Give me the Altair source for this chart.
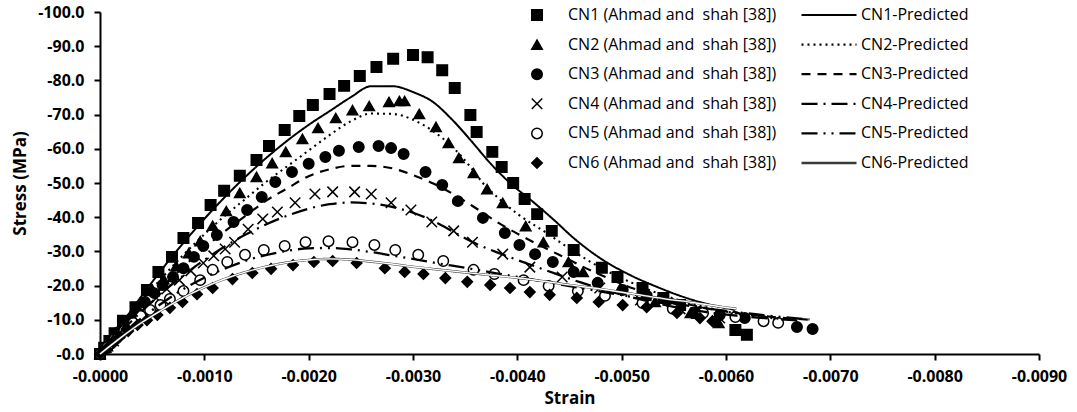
import altair as alt
import pandas as pd

# ---------------- data ----------------
exp_labels = [
    "CN1 (Ahmad and\u00a0 shah [38])",
    "CN2 (Ahmad and\u00a0 shah [38])",
    "CN3 (Ahmad and\u00a0 shah [38])",
    "CN4 (Ahmad and\u00a0 shah [38])",
    "CN5 (Ahmad and\u00a0 shah [38])",
    "CN6 (Ahmad and\u00a0 shah [38])",
]
pred_labels = ["CN1-Predicted", "CN2-Predicted", "CN3-Predicted",
               "CN4-Predicted", "CN5-Predicted", "CN6-Predicted"]

cn1_strain = [0, -0.00004, -0.00009, -0.00014, -0.00022, -0.00034, -0.00045, -0.00056, -0.00069, -0.00080,
              -0.00094, -0.00106, -0.00119, -0.00134, -0.00150, -0.00162, -0.00177, -0.00191, -0.00204, -0.00220,
              -0.00234, -0.00249, -0.00265, -0.00281, -0.00300, -0.00314, -0.00328, -0.00340, -0.00355, -0.00361,
              -0.00376, -0.00385, -0.00396, -0.00407, -0.00419, -0.00433, -0.00454, -0.00481, -0.00496, -0.00520,
              -0.00540, -0.00556, -0.00572, -0.00609, -0.00620]
cn1_stress = [0, -1.8, -3.8, -6.1, -9.7, -13.7, -18.7, -24.0, -28.4, -33.9,
              -38.3, -43.6, -47.7, -52.1, -56.7, -60.8, -65.5, -69.6, -72.8, -76.0,
              -78.4, -81.3, -83.9, -86.3, -87.4, -86.8, -83.0, -77.8, -69.9, -64.9,
              -59.1, -54.7, -50.0, -45.3, -40.9, -36.0, -30.4, -25.2, -22.5, -19.3,
              -16.4, -14.3, -12.0, -7.0, -5.6]

cn2_strain = [0, -0.00007, -0.00013, -0.00021, -0.00031, -0.00040, -0.00051, -0.00061, -0.00073, -0.00085,
              -0.00096, -0.00108, -0.00121, -0.00134, -0.00150, -0.00165, -0.00178, -0.00194, -0.00209, -0.00226,
              -0.00242, -0.00258, -0.00277, -0.00287, -0.00292, -0.00306, -0.00322, -0.00334, -0.00344, -0.00358,
              -0.00371, -0.00386, -0.00408, -0.00425, -0.00449, -0.00463, -0.00499, -0.00532, -0.00566, -0.00593]
cn2_stress = [0, -2.3, -5.0, -7.9, -11.4, -14.9, -18.4, -21.9, -25.7, -29.5,
              -33.0, -37.5, -41.8, -47.1, -51.8, -55.8, -59.1, -62.9, -66.1, -69.0,
              -71.3, -72.5, -73.7, -74.0, -74.0, -70.2, -66.4, -61.7, -57.3, -52.9,
              -48.2, -44.2, -37.4, -32.7, -26.9, -24.0, -19.3, -15.2, -12.0, -9.1]

cn3_strain = [0, -0.00006, -0.00012, -0.00018, -0.00026, -0.00035, -0.00043, -0.00052, -0.00060, -0.00070,
              -0.00080, -0.00090, -0.00099, -0.00112, -0.00128, -0.00141, -0.00155, -0.00168, -0.00184, -0.00200,
              -0.00216, -0.00229, -0.00248, -0.00267, -0.00279, -0.00291, -0.00312, -0.00328, -0.00343, -0.00367,
              -0.00388, -0.00402, -0.00417, -0.00434, -0.00454, -0.00477, -0.00501, -0.00524, -0.00548, -0.00575,
              -0.00594, -0.00618, -0.00668, -0.00683]
cn3_stress = [0, -2.0, -4.1, -6.4, -9.4, -12.3, -15.2, -17.8, -20.2, -22.5,
              -25.1, -28.4, -31.6, -34.8, -38.6, -42.1, -45.9, -50.3, -53.2, -55.6,
              -57.6, -59.4, -60.5, -60.8, -60.2, -58.5, -53.2, -49.4, -44.7, -39.8,
              -35.4, -31.9, -29.2, -26.9, -24.0, -20.8, -18.7, -17.0, -14.6, -12.3,
              -11.4, -10.5, -7.9, -7.3]

cn4_strain = [0, -0.00006, -0.00013, -0.00019, -0.00027, -0.00036, -0.00044, -0.00054, -0.00064, -0.00076,
              -0.00087, -0.00099, -0.00109, -0.00120, -0.00129, -0.00142, -0.00156, -0.00170, -0.00187, -0.00206,
              -0.00223, -0.00244, -0.00260, -0.00279, -0.00298, -0.00318, -0.00339, -0.00357, -0.00386, -0.00412,
              -0.00443, -0.00479, -0.00518, -0.00556, -0.00594]
cn4_stress = [0, -1.8, -3.8, -6.1, -8.5, -11.1, -13.7, -16.4, -19.0, -21.6,
              -24.3, -26.6, -28.7, -30.7, -32.7, -36.5, -39.5, -41.5, -44.2, -46.8,
              -47.4, -47.4, -46.8, -44.2, -42.1, -38.6, -36.0, -32.7, -29.2, -25.4,
              -22.5, -19.3, -15.8, -13.2, -10.5]

cn5_strain = [0, -0.00007, -0.00014, -0.00023, -0.00032, -0.00039, -0.00048, -0.00058, -0.00067, -0.00080,
              -0.00096, -0.00108, -0.00122, -0.00139, -0.00157, -0.00177, -0.00197, -0.00219, -0.00242, -0.00263,
              -0.00283, -0.00305, -0.00329, -0.00358, -0.00378, -0.00406, -0.00430, -0.00458, -0.00484, -0.00520,
              -0.00549, -0.00578, -0.00609, -0.00636, -0.00650]
cn5_stress = [0, -2.0, -4.4, -6.7, -9.1, -11.1, -12.9, -14.3, -16.1, -18.4,
              -21.6, -24.6, -26.9, -29.0, -30.4, -31.6, -32.7, -33.0, -32.7, -31.9,
              -30.4, -29.0, -27.2, -24.6, -23.4, -21.6, -19.9, -18.4, -17.0, -14.9,
              -13.2, -12.0, -10.8, -9.6, -9.1]

cn6_strain = [0, -0.00006, -0.00013, -0.00019, -0.00027, -0.00036, -0.00045, -0.00055, -0.00067, -0.00079,
              -0.00093, -0.00108, -0.00127, -0.00146, -0.00164, -0.00185, -0.00205, -0.00223, -0.00246, -0.00273,
              -0.00292, -0.00310, -0.00331, -0.00352, -0.00374, -0.00393, -0.00412, -0.00431, -0.00457, -0.00478,
              -0.00501, -0.00524, -0.00553, -0.00575, -0.00587]
cn6_stress = [0, -1.5, -3.2, -5.0, -6.7, -8.5, -9.9, -11.4, -13.5, -15.2,
              -17.5, -19.3, -21.9, -23.7, -24.9, -26.0, -26.9, -27.2, -26.6, -25.1,
              -24.0, -23.4, -22.2, -21.1, -20.2, -19.3, -18.1, -17.3, -16.4, -15.2,
              -14.3, -13.7, -12.0, -10.5, -9.6]

# predicted curves
p1_strain = [0, -0.0002, -0.0004, -0.0006, -0.0008, -0.0010, -0.0012, -0.0014, -0.0016, -0.0018,
             -0.0020, -0.0022, -0.0024, -0.0026, -0.0028, -0.0030, -0.0032, -0.00336, -0.00355, -0.00374,
             -0.00393, -0.00415, -0.00434, -0.00454, -0.00479, -0.00508, -0.00534, -0.00559, -0.00575, -0.00609]
p1_stress = [0, -8.5, -17.0, -25.0, -32.5, -39.5, -46.0, -52.0, -57.5, -62.5,
             -67.0, -71.0, -75.0, -78.3, -78.3, -76.6, -73.5, -69.0, -62.6, -55.8,
             -50.0, -44.5, -39.5, -33.9, -28.1, -23.1, -19.6, -16.7, -15.2, -12.9]

p2_strain = [0, -0.0002, -0.0004, -0.0006, -0.0008, -0.0010, -0.0012, -0.0014, -0.0016, -0.0018,
             -0.0020, -0.0022, -0.0024, -0.0026, -0.0028, -0.0030, -0.0032, -0.00339, -0.00355, -0.00367,
             -0.00384, -0.0040, -0.0043, -0.0045, -0.0048, -0.0051, -0.0054, -0.0057, -0.0060, -0.0063, -0.0066]
p2_stress = [0, -8.0, -15.5, -22.5, -29.0, -35.0, -40.5, -45.5, -50.5, -55.0,
             -59.5, -64.0, -68.0, -70.3, -70.2, -68.5, -65.0, -60.2, -54.7, -50.0,
             -45.0, -41.0, -35.0, -30.8, -25.2, -20.8, -17.2, -14.5, -12.4, -11.0, -10.0]

p3_strain = [0, -0.0002, -0.0004, -0.0006, -0.0008, -0.0010, -0.0012, -0.0014, -0.0016, -0.0018,
             -0.0020, -0.0022, -0.0024, -0.0026, -0.0028, -0.0030, -0.0032, -0.0034, -0.0036, -0.0038,
             -0.0040, -0.0042, -0.0044, -0.0047, -0.0050, -0.0053, -0.0056, -0.0059, -0.0062, -0.0065, -0.0068]
p3_stress = [0, -7.0, -13.5, -19.5, -25.5, -31.0, -36.0, -40.5, -45.0, -48.5,
             -52.0, -54.0, -55.0, -55.0, -54.3, -52.3, -49.8, -46.5, -42.7, -38.7,
             -35.2, -32.0, -29.0, -24.5, -20.5, -17.2, -14.8, -12.9, -11.6, -10.7, -10.0]

p4_strain = [0, -0.0002, -0.0004, -0.0006, -0.0008, -0.0010, -0.0012, -0.0014, -0.0016, -0.0018,
             -0.0020, -0.0022, -0.0024, -0.0026, -0.0028, -0.0030, -0.0032, -0.0034, -0.0036, -0.0038,
             -0.0040, -0.0043, -0.0046, -0.0049, -0.0052, -0.0055, -0.0058, -0.0061, -0.0064, -0.0067]
p4_stress = [0, -6.5, -12.5, -18.0, -23.0, -27.5, -31.5, -35.0, -38.0, -40.5,
             -42.5, -43.8, -44.3, -44.0, -43.0, -41.3, -38.8, -35.5, -32.3, -29.8,
             -27.5, -24.2, -21.0, -18.2, -15.8, -13.8, -12.3, -11.2, -10.4, -9.8]

p5_strain = [0, -0.0002, -0.0004, -0.0006, -0.0008, -0.0010, -0.0012, -0.0014, -0.0016, -0.0018,
             -0.0020, -0.0022, -0.0024, -0.0026, -0.0028, -0.0030, -0.0032, -0.0035, -0.0038, -0.0041,
             -0.0044, -0.0047, -0.0050, -0.0053, -0.0056, -0.0059, -0.0062, -0.0065, -0.0068]
p5_stress = [0, -5.5, -10.5, -15.0, -19.0, -22.3, -25.0, -27.3, -29.0, -30.2,
             -30.9, -31.0, -30.6, -29.8, -28.8, -27.8, -26.7, -25.2, -23.6, -22.0,
             -20.4, -18.8, -17.2, -15.7, -14.3, -13.0, -11.9, -10.9, -10.1]

p6_strain = [0, -0.0002, -0.0004, -0.0006, -0.0008, -0.0010, -0.0012, -0.0014, -0.0016, -0.0018,
             -0.0020, -0.0022, -0.0024, -0.0026, -0.0028, -0.0030, -0.0033, -0.0036, -0.0039, -0.0042,
             -0.0045, -0.0048, -0.0051, -0.0054, -0.0057, -0.0060, -0.0061]
p6_stress = [0, -4.8, -9.2, -13.0, -16.5, -19.5, -22.0, -24.0, -25.6, -26.8,
             -27.5, -27.8, -27.6, -27.0, -26.3, -25.5, -24.5, -23.5, -22.6, -21.5,
             -20.2, -19.0, -17.6, -16.2, -15.0, -13.6, -13.2]

x_ticks = [0, -0.001, -0.002, -0.003, -0.004, -0.005, -0.006, -0.007, -0.008, -0.009]
y_ticks = [0, -10, -20, -30, -40, -50, -60, -70, -80, -90, -100]

# ---------------- tables ----------------
exp_series = [(cn1_strain, cn1_stress), (cn2_strain, cn2_stress), (cn3_strain, cn3_stress),
              (cn4_strain, cn4_stress), (cn5_strain, cn5_stress), (cn6_strain, cn6_stress)]
pred_series = [(p1_strain, p1_stress), (p2_strain, p2_stress), (p3_strain, p3_stress),
               (p4_strain, p4_stress), (p5_strain, p5_stress), (p6_strain, p6_stress)]

rows = []
for lab, (xs, ys) in zip(exp_labels, exp_series, strict=True):
    for i, (x, y) in enumerate(zip(xs, ys, strict=True)):
        rows.append({"series": lab, "strain": x, "stress": y, "i": i})
exp_df = pd.DataFrame(rows)

rows = []
for lab, (xs, ys) in zip(pred_labels, pred_series, strict=True):
    for i, (x, y) in enumerate(zip(xs, ys, strict=True)):
        rows.append({"model": lab, "strain": x, "stress": y, "i": i})
pred_df = pd.DataFrame(rows)

# ---------------- encodings ----------------
x_enc = alt.X("strain:Q",
              scale=alt.Scale(domain=[-0.009, 0], reverse=True, nice=False, zero=False),
              axis=alt.Axis(values=x_ticks, title="Strain", grid=False, labelFlush=False,
                            labelExpr="'-' + format(abs(datum.value), '.4f')",
                            labelPadding=8, titlePadding=6))
y_enc = alt.Y("stress:Q",
              scale=alt.Scale(domain=[-100, 0], reverse=True, nice=False, zero=False),
              axis=alt.Axis(values=y_ticks, title="Stress (MPa)", grid=False, labelFlush=False,
                            labelExpr="'-' + format(abs(datum.value), '.1f')",
                            labelPadding=10, titlePadding=8))

x_cross = "M-1,-1L1,1M-1,1L1,-1"

exp_legend = alt.Legend(orient="none", legendX=429, legendY=-5, title=None,
                        labelFont="Open Sans", labelFontSize=16, labelColor="black",
                        symbolSize=110, symbolStrokeWidth=1.5,
                        labelOffset=23, rowPadding=13.6, clipHeight=16, padding=0,
                        labelLimit=400, symbolOpacity=1)

points = alt.Chart(exp_df).mark_point(strokeWidth=1.5, size=110, opacity=1).encode(
    x=x_enc,
    y=y_enc,
    shape=alt.Shape("series:N",
                    scale=alt.Scale(domain=exp_labels,
                                    range=["square", "triangle-up", "circle", x_cross, "circle", "diamond"]),
                    legend=exp_legend),
    fill=alt.Fill("series:N",
                  scale=alt.Scale(domain=exp_labels,
                                  range=["black", "black", "black", "black", "white", "black"]),
                  legend=exp_legend),
    stroke=alt.Stroke("series:N",
                      scale=alt.Scale(domain=exp_labels,
                                      range=["black", "black", "black", "black", "black", "black"]),
                      legend=exp_legend),
)

line_legend = alt.Legend(orient="none", legendX=700, legendY=-5, title=None,
                         labelFont="Open Sans", labelFontSize=16, labelColor="black",
                         symbolType="stroke", symbolSize=3025, labelOffset=3,
                         rowPadding=13.6, clipHeight=16, padding=0, labelLimit=300)

lines = alt.Chart(pred_df).mark_line(interpolate="monotone").encode(
    x=x_enc,
    y=y_enc,
    order="i:Q",
    strokeDash=alt.StrokeDash("model:N",
                              scale=alt.Scale(domain=pred_labels,
                                              range=[[1, 0], [2, 4], [9, 7], [16, 6, 2, 6],
                                                     [16, 6, 2, 6, 2, 6], [1, 0]]),
                              legend=line_legend),
    color=alt.Color("model:N",
                    scale=alt.Scale(domain=pred_labels,
                                    range=["black", "black", "black", "black", "black", "#3a3a3a"]),
                    legend=line_legend),
    strokeWidth=alt.StrokeWidth("model:N",
                                scale=alt.Scale(domain=pred_labels, range=[2, 2.4, 2.4, 2.4, 2.4, 4]),
                                legend=line_legend),
)

cn6_inner = alt.Chart(pred_df[pred_df["model"] == "CN6-Predicted"]).mark_line(
    interpolate="monotone", color="white", strokeWidth=1.4
).encode(x=x_enc, y=y_enc, order="i:Q")

chart = alt.layer(points, lines, cn6_inner).properties(
    width=939, height=342,
    padding={"left": 100, "top": 12, "right": 38, "bottom": 58},
    autosize=alt.AutoSizeParams(type="none"),
    background="white",
).configure_view(stroke=None).configure_axis(
    labelFont="Open Sans", labelFontWeight="bold", labelFontSize=16, labelColor="black",
    titleFont="Open Sans", titleFontWeight="bold", titleFontSize=17, titleColor="black",
    domainColor="black", domainWidth=2, tickColor="black", tickWidth=2, tickSize=6,
)

chart.save("out.html", embed_options={"renderer": "svg", "actions": False})
